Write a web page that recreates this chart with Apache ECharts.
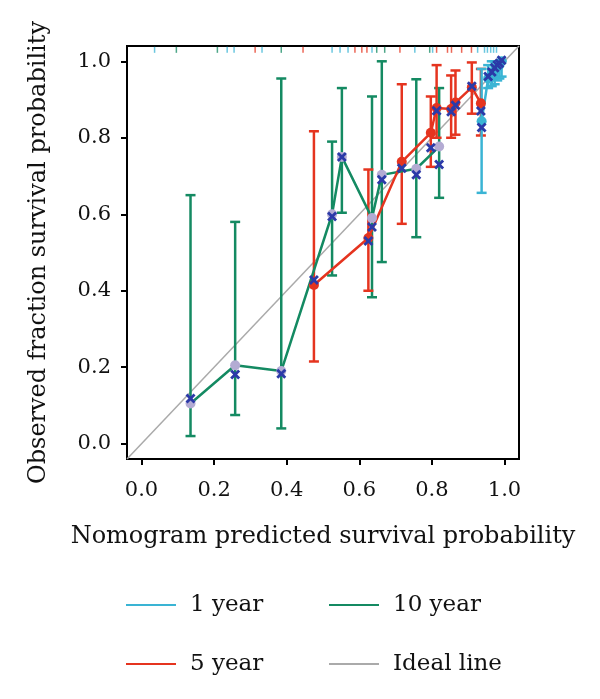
<!DOCTYPE html>
<html>
<head>
<meta charset="utf-8">
<script src="https://cdn.jsdelivr.net/npm/echarts@6/dist/echarts.min.js"></script>
<style>
  html, body { margin: 0; padding: 0; background: #fff; }
  #chart { width: 600px; height: 699px; }
</style>
</head>
<body>
<div id="chart"></div>
<script>
// tick labels
var ticks = [0, 0.2, 0.4, 0.6, 0.8, 1.0];
var idealLine = [[-0.04, -0.04], [1.04, 1.04]];

// 10 year
var x10 = [0.135, 0.258, 0.385, 0.525, 0.552, 0.635, 0.662, 0.757, 0.82];
var obs10 = [0.105, 0.205, 0.19, 0.60, 0.75, 0.59, 0.703, 0.719, 0.777];
var cor10 = [0.118, 0.181, 0.183, 0.594, 0.75, 0.567, 0.69, 0.703, 0.73];
var lo10 = [0.02, 0.075, 0.04, 0.44, 0.604, 0.383, 0.475, 0.54, 0.643];
var hi10 = [0.65, 0.58, 0.955, 0.79, 0.93, 0.908, 1.0, 0.953, 0.93];

// 5 year
var x5 = [0.475, 0.625, 0.717, 0.797, 0.813, 0.853, 0.865, 0.91, 0.935];
var obs5 = [0.415, 0.538, 0.737, 0.813, 0.878, 0.875, 0.892, 0.932, 0.89];
var cor5 = [0.428, 0.53, 0.72, 0.774, 0.871, 0.868, 0.885, 0.935, 0.87];
var lo5 = [0.215, 0.40, 0.575, 0.724, 0.80, 0.80, 0.808, 0.863, 0.806];
var hi5 = [0.817, 0.717, 0.94, 0.908, 0.99, 0.963, 0.976, 0.997, 0.98];

// 1 year
var x1 = [0.937, 0.955, 0.965, 0.973, 0.98, 0.986, 0.992];
var obs1 = [0.843, 0.955, 0.965, 0.975, 0.985, 0.99, 1.0];
var cor1 = [0.827, 0.96, 0.972, 0.983, 0.99, 0.995, 1.003];
var lo1 = [0.656, 0.93, 0.935, 0.94, 0.95, 0.955, 0.96];
var hi1 = [0.98, 0.99, 1.0, 1.0, 1.0, 1.0, 1.0];

// rug marks (predicted values) along the top
var rug1 = [0.036, 0.236, 0.255, 0.332, 0.525, 0.547, 0.569, 0.635, 0.753, 0.802, 0.926, 0.945, 0.953, 0.962, 0.97, 0.978];
var rug5 = [0.313, 0.445, 0.588, 0.607, 0.621, 0.712, 0.813, 0.843, 0.854, 0.882, 0.909];
var rug10 = [0.096, 0.209, 0.385, 0.648, 0.67, 0.794];
var rugY = 1.03;

var C1 = "#3ab4d4", C5 = "#e5341f", C10 = "#148a62", CI = "#aaaaaa";
var CX = "#2b3aa8", CL = "#b3abd3";
var FONT = "DejaVu Serif";
var XMARK = "path://M2,0L5,3L8,0L10,2L7,5L10,8L8,10L5,7L2,10L0,8L3,5L0,2Z";

function zip(a, b) {
  return a.map(function (v, i) { return [v, b[i]]; });
}
function zip3(a, b, c) {
  return a.map(function (v, i) { return [v, b[i], c[i]]; });
}

function errBars(name, color, xs, lo, hi) {
  return {
    type: "custom",
    name: name + " bars",
    z: 3,
    data: zip3(xs, lo, hi),
    renderItem: function (params, api) {
      var p1 = api.coord([api.value(0), api.value(1)]);
      var p2 = api.coord([api.value(0), api.value(2)]);
      var w = 5;
      var st = { stroke: color, lineWidth: 2.5 };
      return {
        type: "group",
        children: [
          { type: "line", shape: { x1: p1[0], y1: p1[1], x2: p2[0], y2: p2[1] }, style: st },
          { type: "line", shape: { x1: p1[0] - w, y1: p1[1], x2: p1[0] + w, y2: p1[1] }, style: st },
          { type: "line", shape: { x1: p2[0] - w, y1: p2[1], x2: p2[0] + w, y2: p2[1] }, style: st }
        ]
      };
    }
  };
}

function calLine(name, color, xs, ys) {
  return {
    type: "line",
    name: name,
    z: 4,
    data: zip(xs, ys),
    symbol: "none",
    color: color,
    lineStyle: { color: color, width: 2.5 }
  };
}

function dots(name, color, xs, ys) {
  return {
    type: "scatter",
    name: name + " pts",
    z: 5,
    data: zip(xs, ys),
    symbol: "circle",
    symbolSize: 10,
    itemStyle: { color: color, opacity: 1 }
  };
}

function crosses(name, xs, ys) {
  return {
    type: "scatter",
    name: name + " x",
    z: 6,
    data: zip(xs, ys),
    symbol: XMARK,
    symbolSize: 10,
    itemStyle: { color: CX, opacity: 1 }
  };
}

function rug(name, color, xs) {
  return {
    type: "scatter",
    name: name + " rug",
    z: 2,
    data: xs.map(function (v) { return [v, rugY]; }),
    symbol: "rect",
    symbolSize: [1.5, 6],
    itemStyle: { color: color, opacity: 0.75 }
  };
}

var chart = echarts.init(document.getElementById("chart"));
chart.setOption({
  animation: false,
  backgroundColor: "#fff",
  grid: {
    left: 127, right: 81, top: 46, bottom: 240,
    show: true, borderColor: "#000", borderWidth: 2
  },
  xAxis: {
    type: "value",
    min: -0.04, max: 1.04,
    name: "Nomogram predicted survival probability",
    nameLocation: "middle",
    nameGap: 66,
    nameTextStyle: { color: "#111", fontSize: 24, fontFamily: FONT },
    splitLine: { show: false },
    axisLine: { show: true, onZero: false, lineStyle: { color: "#000", width: 2 } },
    axisTick: { show: true, customValues: ticks, length: 6, lineStyle: { color: "#000", width: 2 } },
    axisLabel: {
      customValues: ticks, margin: 21, color: "#111", fontSize: 21, fontFamily: FONT,
      formatter: function (v) { return v.toFixed(1); }
    }
  },
  yAxis: {
    type: "value",
    min: -0.04, max: 1.04,
    name: "Observed fraction survival probability",
    nameLocation: "middle",
    nameGap: 76,
    nameTextStyle: { color: "#111", fontSize: 24, fontFamily: FONT },
    splitLine: { show: false },
    axisLine: { show: true, onZero: false, lineStyle: { color: "#000", width: 2 } },
    axisTick: { show: true, customValues: ticks, length: 6, lineStyle: { color: "#000", width: 2 } },
    axisLabel: {
      customValues: ticks, margin: 16, color: "#111", fontSize: 21, fontFamily: FONT,
      formatter: function (v) { return v.toFixed(1); }
    }
  },
  legend: [
    { data: [{ name: "1 year", icon: "rect" }], left: 121, top: 587 },
    { data: [{ name: "10 year", icon: "rect" }], left: 324, top: 587 },
    { data: [{ name: "5 year", icon: "rect" }], left: 121, top: 646 },
    { data: [{ name: "Ideal line", icon: "rect" }], left: 324, top: 646 }
  ].map(function (l) {
    l.itemWidth = 50;
    l.itemHeight = 2;
    l.selectedMode = false;
    l.textStyle = { color: "#111", fontSize: 23, fontFamily: FONT, padding: [0, 0, 0, 9], lineHeight: 26 };
    return l;
  }),
  series: [
    {
      type: "line",
      name: "Ideal line",
      z: 1,
      data: idealLine,
      symbol: "none",
      color: CI,
      lineStyle: { color: CI, width: 1.5 }
    },
    rug("1 year", C1, rug1),
    rug("5 year", C5, rug5),
    rug("10 year", C10, rug10),
    errBars("10 year", C10, x10, lo10, hi10),
    errBars("5 year", C5, x5, lo5, hi5),
    errBars("1 year", C1, x1, lo1, hi1),
    calLine("10 year", C10, x10, obs10),
    calLine("5 year", C5, x5, obs5),
    calLine("1 year", C1, x1, obs1),
    dots("10 year", CL, x10, obs10),
    dots("5 year", C5, x5, obs5),
    dots("1 year", C1, x1, obs1),
    crosses("10 year", x10, cor10),
    crosses("5 year", x5, cor5),
    crosses("1 year", x1, cor1)
  ]
});
</script>
</body>
</html>
